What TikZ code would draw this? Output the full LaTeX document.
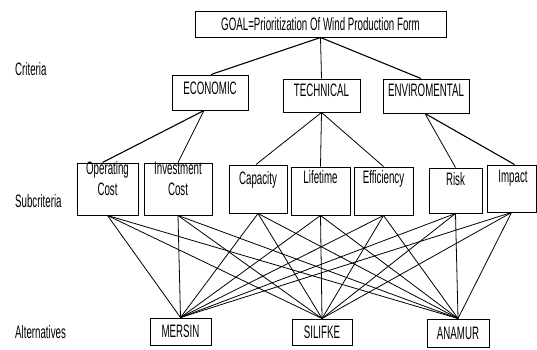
\documentclass[tikz,border=0pt]{standalone}
\usepackage{fontspec}
\setmainfont{Liberation Sans}[FakeStretch=0.54]
\begin{document}
\begin{tikzpicture}[x=1pt,y=-1pt,
  box/.style={draw, line width=1pt, inner sep=0pt},
  txt/.style={inner sep=0pt, align=center, text height=12.9pt, text depth=0pt,
              font=\fontsize{18}{21}\selectfont},
  conn/.style={line width=0.8pt}]
\useasboundingbox (0,0) rectangle (537,349);
\fill[white] (0,0) rectangle (537,349);

% level labels
\node[txt, anchor=west] (lc) at (15,69) {Criteria};
\node[txt, anchor=west] (ls) at (15,201) {Subcriteria};
\node[txt, anchor=west] (la) at (15,332) {Alternatives};

% goal
\node[box, minimum width=251pt, minimum height=26pt] (goal) at (320.5,24) {};
\node[txt] (tgoal) at (320.5,24) {GOAL=Prioritization Of Wind Production Form};

% criteria
\node[box, minimum width=76pt, minimum height=35pt] (eco) at (210,92.5) {};
\node[txt] (teco) at (210,88) {ECONOMIC};
\node[box, minimum width=77pt, minimum height=33pt] (tech) at (321.5,95.5) {};
\node[txt] (ttech) at (321.5,90) {TECHNICAL};
\node[box, minimum width=86pt, minimum height=34pt] (env) at (426,96) {};
\node[txt] (tenv) at (426,90) {ENVIROMENTAL};

% subcriteria
\node[box, minimum width=61pt, minimum height=52pt] (opc) at (107.5,189) {};
\node[txt] (topc) at (107.5,189.5) {Operating\\Cost};
\node[box, minimum width=68pt, minimum height=52pt] (inv) at (178,189) {};
\node[txt] (tinv) at (178,189.5) {Investment\\Cost};
\node[box, minimum width=58pt, minimum height=48pt] (cap) at (258,189) {};
\node[txt] (tcap) at (258,178) {Capacity};
\node[box, minimum width=59pt, minimum height=48pt] (life) at (320.5,191) {};
\node[txt] (tlife) at (320.5,177) {Lifetime};
\node[box, minimum width=59pt, minimum height=48pt] (eff) at (383.5,191) {};
\node[txt] (teff) at (383.5,177) {Efficiency};
\node[box, minimum width=53pt, minimum height=45pt] (risk) at (455.5,190.5) {};
\node[txt] (trisk) at (455.5,179) {Risk};
\node[box, minimum width=49pt, minimum height=47pt] (imp) at (511.5,188.5) {};
\node[txt] (timp) at (513,176) {Impact};

% alternatives
\node[box, minimum width=61pt, minimum height=27pt] (mersin) at (180.5,331.5) {};
\node[txt] (tmersin) at (180.5,331.5) {MERSIN};
\node[box, minimum width=60pt, minimum height=26pt] (silifke) at (322,332) {};
\node[txt] (tsilifke) at (322,332) {SILIFKE};
\node[box, minimum width=62pt, minimum height=28pt] (anamur) at (458,333) {};
\node[txt] (tanamur) at (458,333) {ANAMUR};

% goal -> criteria
\draw[conn, line width=1.1pt] (goal.south) -- ([xshift=1pt]eco.north);
\draw[conn] (goal.south) -- (tech.north);
\draw[conn, line width=1.1pt] (goal.south) -- ([xshift=-5pt]env.north);

% criteria -> subcriteria
\draw[conn, line width=1.1pt] ([xshift=-6pt]eco.south) -- ([xshift=-5pt]opc.north);
\draw[conn] ([xshift=-6pt]eco.south) -- (inv.north);
\draw[conn] (tech.south) -- ([xshift=-2pt]cap.north);
\draw[conn] (tech.south) -- (life.north);
\draw[conn] (tech.south) -- (eff.north);
\draw[conn] ([xshift=-1pt]env.south) -- (risk.north);
\draw[conn, line width=1.1pt] ([xshift=-1pt]env.south) -- ([xshift=3pt]imp.north);

% subcriteria -> alternatives
\foreach \s in {opc,inv,cap,life,eff,risk,imp}{
  \foreach \a in {mersin,silifke,anamur}{
    \draw[conn] (\s.south) -- (\a.north);
  }
}
\end{tikzpicture}
\end{document}
